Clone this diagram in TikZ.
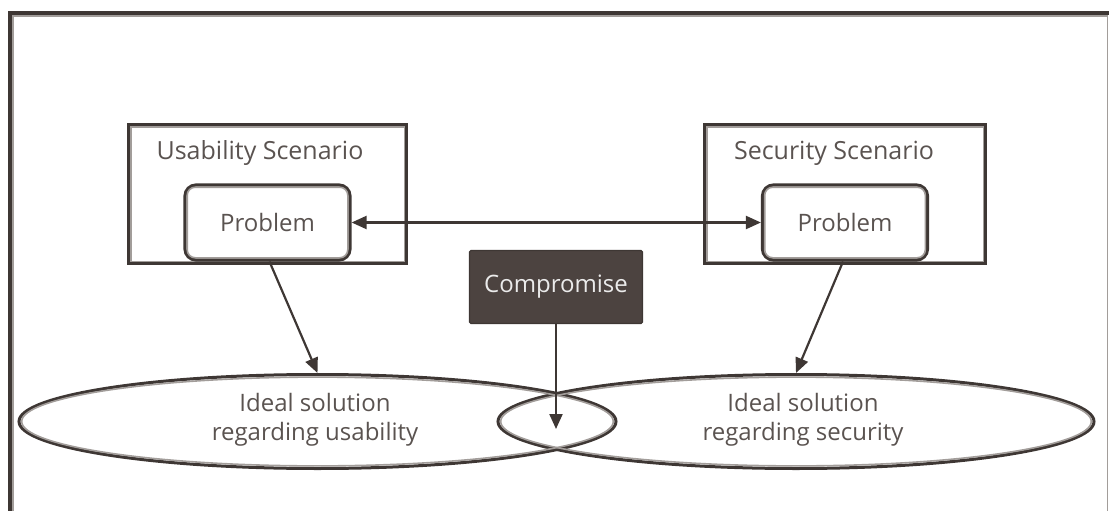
\documentclass[tikz,border=0pt]{standalone}
\usepackage{fontspec}
\setmainfont{Open Sans}
\usetikzlibrary{arrows.meta,shapes.geometric}
\definecolor{ink}{HTML}{3E3734}
\definecolor{txt}{HTML}{5A5350}
\definecolor{rim}{HTML}{A29D9A}
\definecolor{boxfill}{HTML}{4C4340}
\tikzset{
  rimline/.style={draw=rim,line width=1.6pt},
  outerbox/.style={rectangle,draw=ink,line width=3.2pt,inner sep=0pt},
  probbox/.style={rectangle,rounded corners=11pt,draw=ink,line width=3.2pt,
    minimum width=165pt,minimum height=75pt,inner sep=0pt,
    font=\fontsize{24}{28}\selectfont,text=txt},
  labeltext/.style={font=\fontsize{24}{28.5}\selectfont,text=txt,align=center},
  titletext/.style={font=\fontsize{25}{29}\selectfont,text=txt},
  solution/.style={ellipse,draw=ink,line width=3pt,minimum height=94pt,inner sep=0pt},
  arr/.style={draw=ink,line width=2.2pt,-{Triangle[length=15pt,width=13pt]}},
  darr/.style={draw=ink,line width=2.2pt,{Triangle[length=15pt,width=13pt]}-{Triangle[length=15pt,width=13pt]}},
}
\begin{document}
\begin{tikzpicture}[x=1pt,y=-1pt]
\useasboundingbox (0,0) rectangle (1109,511);
% page frame, open at the bottom
\draw[draw=rim,line width=1.5pt] (1107.5,14) -- (1107.5,520);
\draw[draw=rim,line width=1.6pt] (12.8,520) -- (12.8,16.2) -- (1107,16.2);
\draw[draw=ink,line width=3.6pt] (10,520) -- (10,13) -- (1109,13);

% scenario boxes
\node[outerbox,minimum width=278pt,minimum height=139pt] (usc) at (267.5,194) {};
\draw[rimline] ([shift={(3.8,3.8)}]usc.north west) rectangle ([shift={(-3.8,-3.8)}]usc.south east);
\node[outerbox,minimum width=281pt,minimum height=139pt] (ssc) at (845,194) {};
\draw[rimline] ([shift={(3.8,3.8)}]ssc.north west) rectangle ([shift={(-3.8,-3.8)}]ssc.south east);
\node[titletext] (ust) at (260,153) {Usability Scenario};
\node[titletext] (sst) at (834,153) {Security Scenario};

% problem boxes
\node[probbox,fill=white] (up) at (267.5,222.5) {Problem};
\draw[rimline,rounded corners=8pt] ([shift={(3.8,3.8)}]up.north west) rectangle ([shift={(-3.8,-3.8)}]up.south east);
\node[probbox,fill=white] (sp) at (845,222.5) {Problem};
\draw[rimline,rounded corners=8pt] ([shift={(3.8,3.8)}]sp.north west) rectangle ([shift={(-3.8,-3.8)}]sp.south east);

% compromise box
\node[rectangle,rounded corners=1.5pt,fill=boxfill,draw=ink,line width=1.4pt,minimum width=173pt,minimum height=73pt,
  font=\fontsize{24}{28}\selectfont,text=white!92!black] (comp) at (556,287) {Compromise};

% solution ellipses
\node[solution,minimum width=597pt] (ue) at (317.5,421.5) {};
\node[solution,minimum width=596pt] (se) at (796,421.5) {};
\draw[rimline] (317.5,421.5) ellipse [x radius=295.8pt, y radius=44.4pt];
\draw[rimline] (796,421.5) ellipse [x radius=295.3pt, y radius=44.4pt];
\node[labeltext] (uet) at (315,420) {Ideal solution\\regarding usability};
\node[labeltext] (set) at (803,420) {Ideal solution\\regarding security};

% connectors
\coordinate (meet) at (556,429);
\draw[darr] (up.east) -- (sp.west);
\draw[arr] (up.south) ++(2,0) -- (ue.north);
\draw[arr] (sp.south) ++(-2,0) -- (se.north);
\draw[arr] (comp.south) -- (meet);
\end{tikzpicture}
\end{document}
